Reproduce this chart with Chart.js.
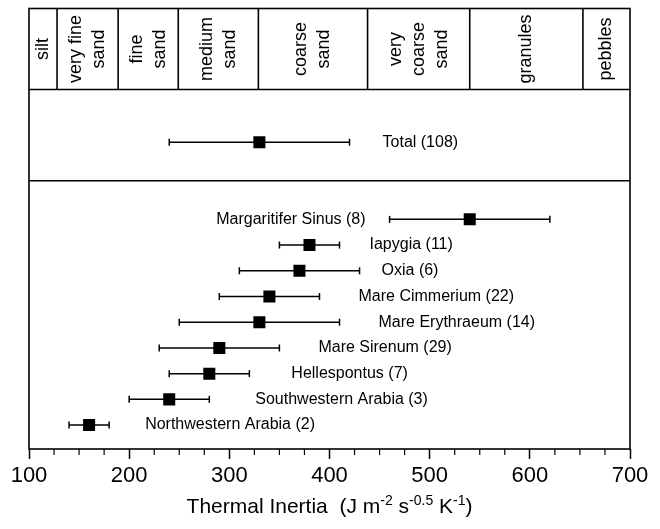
<!DOCTYPE html>
<html>
<head>
<meta charset="utf-8">
<script src="https://cdn.jsdelivr.net/npm/chart.js@4.4.1/dist/chart.umd.min.js"></script>
<style>
html,body{margin:0;padding:0;background:#fff;}
#wrap{width:660px;height:529px;}
</style>
</head>
<body>
<div id="wrap"><canvas id="c" width="660" height="529"></canvas></div>
<script>
// ---- data ----
const regions = ["Margaritifer Sinus (8)", "Iapygia (11)", "Oxia (6)", "Mare Cimmerium (22)", "Mare Erythraeum (14)", "Mare Sirenum (29)", "Hellespontus (7)", "Southwestern Arabia (3)", "Northwestern Arabia (2)"];
const regionMean = [540, 380, 370, 340, 330, 290, 280, 240, 160];
const regionLow  = [460, 350, 310, 290, 250, 230, 240, 200, 140];
const regionHigh = [620, 410, 430, 390, 410, 350, 320, 280, 180];
const totalLabel = "Total (108)";
const totalMean = 330, totalLow = 240, totalHigh = 420;
const grainBounds = [100, 128, 189, 249, 329, 438, 540, 653, 700];
const grainLabels = [["silt"], ["very fine", "sand"], ["fine", "sand"], ["medium", "sand"], ["coarse", "sand"], ["very", "coarse", "sand"], ["granules"], ["pebbles"]];
const xTickValues = [100, 200, 300, 400, 500, 600, 700];

// ---- layout (not data) ----
const rowTotal = 11;
const sectionDividers = [9.5, 13.05];
const labelSide = ["left", "right", "right", "right", "right", "right", "right", "right", "right"];
const labelGap = [24, 30, 22, 39, 39, 39, 42, 46, 36];
const totalGap = 33;
const FONT = '"Liberation Sans", Arial, Helvetica, sans-serif';

const rowY = i => regions.length - 1 - i;
const points = regions.map((r, i) => ({x: regionMean[i], y: rowY(i)}));
points.push({x: totalMean, y: rowTotal});
const lows = regionLow.concat([totalLow]);
const highs = regionHigh.concat([totalHigh]);
const names = regions.concat([totalLabel]);
const sides = labelSide.concat(["right"]);
const gaps = labelGap.concat([totalGap]);

Chart.defaults.font.family = FONT;
Chart.defaults.color = '#000';

const deco = {
  id: 'deco',
  beforeDatasetsDraw(chart) {
    const {ctx, chartArea: a, scales: {x, y}} = chart;
    ctx.save();
    ctx.strokeStyle = '#000';
    ctx.fillStyle = '#000';
    ctx.lineWidth = 1.6;
    const line = (x1, y1, x2, y2) => { ctx.beginPath(); ctx.moveTo(x1, y1); ctx.lineTo(x2, y2); ctx.stroke(); };
    // frame
    ctx.strokeRect(a.left, a.top, a.right - a.left, a.bottom - a.top);
    sectionDividers.forEach(v => { const py = y.getPixelForValue(v); line(a.left, py, a.right, py); });
    const topDiv = y.getPixelForValue(sectionDividers[1]);
    grainBounds.slice(1, -1).forEach(v => { const px = x.getPixelForValue(v); line(px, a.top, px, topDiv); });
    // minor ticks
    ctx.lineWidth = 1.2;
    for (let v = x.min; v <= x.max; v += 25) {
      if (v % 100 === 0) continue;
      const px = x.getPixelForValue(v);
      line(px, a.bottom, px, a.bottom + 6);
    }
    // grain labels
    ctx.font = '18px ' + FONT;
    ctx.textAlign = 'center';
    ctx.textBaseline = 'middle';
    grainLabels.forEach((lines, i) => {
      const cx = (x.getPixelForValue(grainBounds[i]) + x.getPixelForValue(grainBounds[i + 1])) / 2;
      const cy = (a.top + topDiv) / 2;
      ctx.save();
      ctx.translate(cx, cy);
      ctx.rotate(-Math.PI / 2);
      lines.forEach((t, j) => ctx.fillText(t, 0, (j - (lines.length - 1) / 2) * 23));
      ctx.restore();
    });
    // error bars
    ctx.lineWidth = 1.5;
    points.forEach((p, i) => {
      const py = y.getPixelForValue(p.y);
      const x1 = x.getPixelForValue(lows[i]);
      const x2 = x.getPixelForValue(highs[i]);
      line(x1, py, x2, py);
      line(x1, py - 3.5, x1, py + 3.5);
      line(x2, py - 3.5, x2, py + 3.5);
      ctx.font = '16px ' + FONT;
      ctx.textBaseline = 'middle';
      if (sides[i] === 'left') {
        ctx.textAlign = 'right';
        ctx.fillText(names[i], x1 - gaps[i], py);
      } else {
        ctx.textAlign = 'left';
        ctx.fillText(names[i], x2 + gaps[i], py);
      }
    });
    ctx.restore();
  },
  afterDraw(chart) {
    const {ctx, chartArea: a} = chart;
    const segs = [
      {t: 'Thermal Inertia  (J m', s: false},
      {t: '-2', s: true},
      {t: ' s', s: false},
      {t: '-0.5', s: true},
      {t: ' K', s: false},
      {t: '-1', s: true},
      {t: ')', s: false}
    ];
    const big = '21px ' + FONT, small = '14px ' + FONT;
    ctx.save();
    ctx.fillStyle = '#000';
    ctx.textBaseline = 'alphabetic';
    ctx.textAlign = 'left';
    let w = 0;
    segs.forEach(sg => { ctx.font = sg.s ? small : big; w += ctx.measureText(sg.t).width; });
    let px = (a.left + a.right) / 2 - w / 2;
    const base = 513;
    segs.forEach(sg => {
      ctx.font = sg.s ? small : big;
      ctx.fillText(sg.t, px, sg.s ? base - 8 : base);
      px += ctx.measureText(sg.t).width;
    });
    ctx.restore();
  }
};

new Chart(document.getElementById('c'), {
  type: 'scatter',
  data: {
    datasets: [{
      data: points,
      pointStyle: 'rect',
      radius: 8.5,
      hoverRadius: 8.5,
      backgroundColor: '#000',
      borderWidth: 0
    }]
  },
  options: {
    responsive: false,
    animation: false,
    devicePixelRatio: 1,
    layout: {padding: {left: 29, right: 30, top: 6, bottom: 0}},
    plugins: {legend: {display: false}, tooltip: {enabled: false}, title: {display: false}},
    scales: {
      x: {
        type: 'linear',
        min: 100, max: 700,
        afterBuildTicks: s => { s.ticks = xTickValues.map(v => ({value: v})); },
        afterFit: s => { s.height = 80; },
        ticks: {font: {size: 22}, color: '#000', padding: 4, maxRotation: 0, autoSkip: false},
        grid: {display: true, drawOnChartArea: false, drawTicks: true, tickLength: 10, tickColor: '#000', tickWidth: 1.5},
        border: {display: false}
      },
      y: {
        type: 'linear',
        min: -0.93, max: 16.2,
        display: false
      }
    }
  },
  plugins: [deco]
});
</script>
</body>
</html>
